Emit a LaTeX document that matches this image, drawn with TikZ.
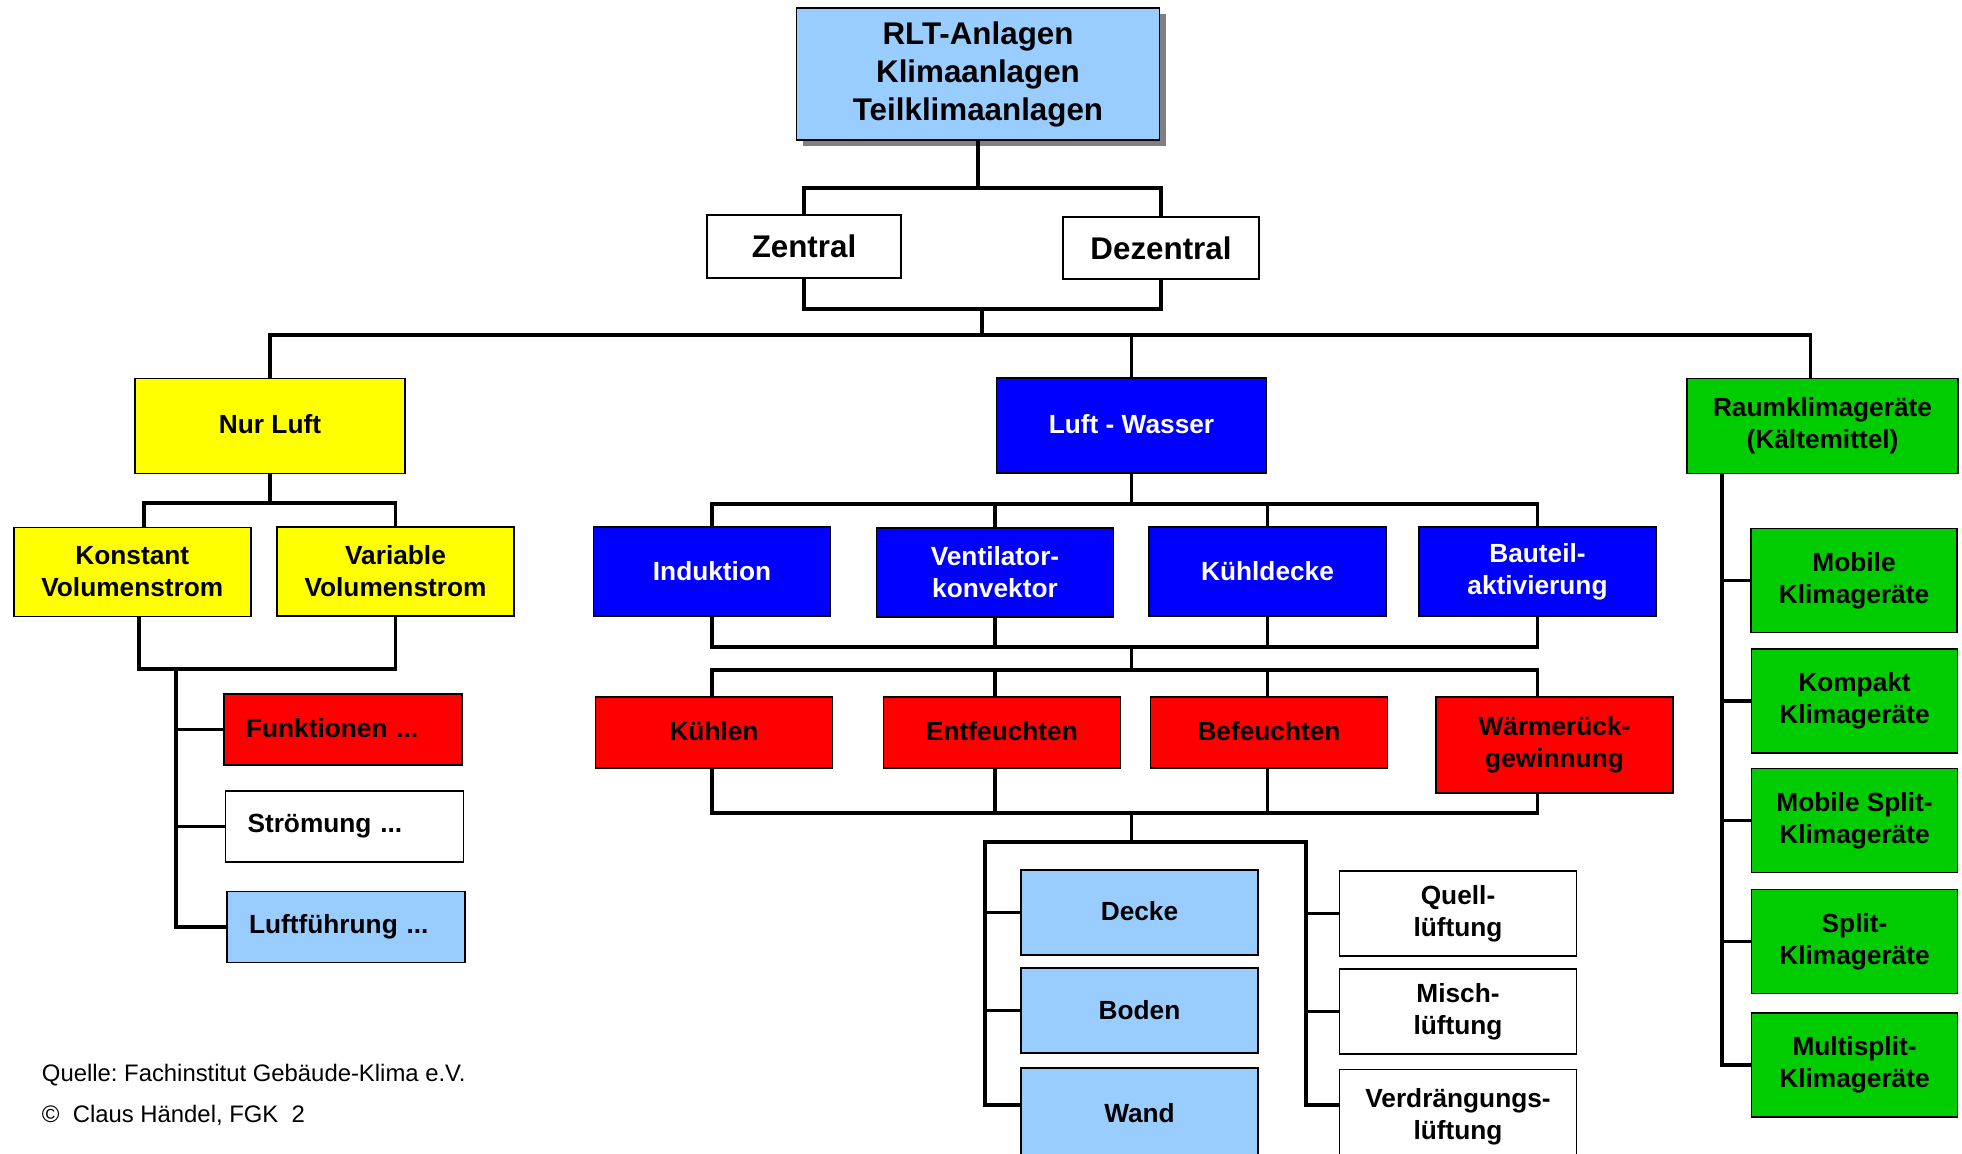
\documentclass[tikz,border=0pt]{standalone}
\usepackage{fontspec}
\setmainfont{Liberation Sans}
\frenchspacing
\usetikzlibrary{shadows}
\definecolor{lblue}{HTML}{99CCFF}
\definecolor{gyellow}{HTML}{FFFF00}
\definecolor{gblue}{HTML}{0000FF}
\definecolor{gred}{HTML}{FF0000}
\definecolor{ggreen}{HTML}{00CC00}
\definecolor{shadowgray}{HTML}{808080}
\newcommand{\upt}[1]{\raisebox{2.5pt}{#1}}
\begin{document}
\begin{tikzpicture}[x=0.75pt,y=-0.75pt,
  box/.style={draw=black, line width=1.3pt, inner sep=0pt, align=center,
    font=\fontsize{19.7}{24}\selectfont\bfseries},
  bigbox/.style={box, font=\fontsize{23.5}{28.5}\selectfont\bfseries},
  mainbox/.style={box, minimum width=202.5pt, minimum height=71.25pt},
  subbox/.style={box, minimum width=177.75pt, minimum height=66.75pt},
  redbox/.style={box, fill=gred, minimum width=177.75pt, minimum height=53.25pt},
  listbox/.style={box, minimum height=53.25pt, text width=145.5pt, inner xsep=16.5pt, align=left},
  lowbox/.style={box, minimum width=177.75pt, minimum height=63.75pt},
  greenbox/.style={box, fill=ggreen, minimum width=154.5pt, minimum height=78pt},
  conn/.style={line width=2.8pt, line join=miter},
  foot/.style={inner sep=0pt, anchor=base west, font=\fontsize{17.9}{22}\selectfont}]
\useasboundingbox (0,0) rectangle (1962,1153);

% top
\node[bigbox, fill=lblue, minimum width=272.25pt, minimum height=99pt,
  drop shadow={shadow xshift=4.5pt, shadow yshift=-4.5pt, fill=shadowgray, opacity=1}]
  (top) at (978,74) {RLT-Anlagen\\Klimaanlagen\\Teilklimaanlagen};
\node[bigbox, fill=white, minimum width=145.5pt, minimum height=47.25pt] (zentral) at (804,246.5) {Zentral};
\node[bigbox, fill=white, minimum width=147pt, minimum height=46.5pt] (dezentral) at (1161,248) {Dezentral};

% main row
\node[mainbox, fill=gyellow] (nurluft) at (270,426) {\upt{Nur Luft}};
\node[mainbox, fill=gblue, text=white] (luftwasser) at (1131.5,425.5) {\upt{Luft - Wasser}};
\node[mainbox, fill=ggreen, minimum width=203.25pt] (raum) at (1822.5,426) {Raumklimageräte\\(Kältemittel)};

% Nur Luft branch
\node[subbox, fill=gyellow] (konst) at (132.3,572) {Konstant\\Volumenstrom};
\node[subbox, fill=gyellow] (variable) at (395.5,571.5) {Variable\\Volumenstrom};
\node[listbox, fill=gred] (funk) at (343,729.5) {\upt{Funktionen ...}};
\node[listbox, fill=white] (stroem) at (344.5,826.5) {Strömung ...};
\node[listbox, fill=lblue] (luftf) at (346,927) {Luftführung ...};

% Luft-Wasser branch
\node[subbox, fill=gblue, text=white] (induktion) at (712,571.5) {Induktion};
\node[subbox, fill=gblue, text=white] (vent) at (995,572.5) {Ventilator-\\konvektor};
\node[subbox, fill=gblue, text=white] (kuehldecke) at (1267.5,571.5) {Kühldecke};
\node[subbox, fill=gblue, text=white] (bauteil) at (1537.5,571.5) {Bauteil-\\aktivierung};

\node[redbox] (kuehlen) at (714,732.5) {\upt{Kühlen}};
\node[redbox] (entf) at (1002,732.5) {\upt{Entfeuchten}};
\node[redbox] (bef) at (1269,732.5) {\upt{Befeuchten}};
\node[redbox, minimum height=72pt] (waerme) at (1554.5,745) {Wärmerück-\\gewinnung};

\node[lowbox, fill=lblue] (decke) at (1139.5,912.5) {\upt{Decke}};
\node[lowbox, fill=lblue] (boden) at (1139.5,1010.5) {Boden};
\node[lowbox, fill=lblue, minimum height=71.25pt] (wand) at (1139.5,1115.5) {\raisebox{4.5pt}{Wand}};
\node[lowbox, fill=white] (quell) at (1458,913.5) {Quell-\\lüftung};
\node[lowbox, fill=white] (misch) at (1458,1011.5) {Misch-\\lüftung};
\node[lowbox, fill=white, minimum height=71.25pt] (verdr) at (1458,1117) {Verdrängungs-\\lüftung};

% Raumklima branch
\node[greenbox] (mobile) at (1854,580.5) {Mobile\\Klimageräte};
\node[greenbox] (kompakt) at (1854.5,701) {Kompakt\\Klimageräte};
\node[greenbox] (msplit) at (1854.5,820.5) {Mobile Split-\\Klimageräte};
\node[greenbox] (split) at (1854.5,941.5) {Split-\\Klimageräte};
\node[greenbox] (multi) at (1854.5,1065) {Multisplit-\\Klimageräte};

% footer
\node[foot] (quelle) at (41.7,1081) {Quelle: Fachinstitut Gebäude-Klima e.V.};
\node[foot] (copy) at (41.7,1122) {\textcopyright\ \ Claus Händel, FGK\ \ 2};

% connectors top
\coordinate (ta) at (978,188);
\coordinate (tb) at (982,309);
\coordinate (mainbus) at (982,335);
\draw[conn] (top.south) -- (ta);
\draw[conn] (zentral.north) |- (ta) -| (dezentral.north);
\draw[conn] (zentral.south) |- (tb) -| (dezentral.south);
\draw[conn] (tb) -- (mainbus);
\draw[conn] (nurluft.north) |- (mainbus) -| ([xshift=-9pt]raum.north);
\draw[conn] (luftwasser.north) -- (luftwasser.north |- mainbus);

% Nur Luft connectors
\coordinate (nlbus) at (270,503);
\coordinate (ltrunk) at (176,669);
\draw[conn] (nurluft.south) -- (nlbus);
\draw[conn] ([xshift=9pt]konst.north) |- (nlbus) -| (variable.north);
\draw[conn] ([xshift=5pt]konst.south) |- (ltrunk) -| (variable.south);
\draw[conn] (ltrunk) |- (luftf.west);
\draw[conn] (funk.west) -- (funk.west -| ltrunk);
\draw[conn] (stroem.west) -- (stroem.west -| ltrunk);

% Luft-Wasser connectors
\coordinate (lwb) at (1131.5,504);
\coordinate (bb) at (1131.5,647);
\coordinate (rb) at (1131.5,670);
\coordinate (rbb) at (1131.5,813);
\coordinate (lb) at (1131.5,842);
\draw[conn] (luftwasser.south) -- (lwb);
\draw[conn] (induktion.north) |- (lwb) -| (bauteil.north);
\draw[conn] (vent.north) -- (vent.north |- lwb);
\draw[conn] (kuehldecke.north) -- (kuehldecke.north |- lwb);
\draw[conn] (induktion.south) |- (bb) -| (bauteil.south);
\draw[conn] (vent.south) -- (vent.south |- bb);
\draw[conn] (kuehldecke.south) -- (kuehldecke.south |- bb);
\draw[conn] (bb) -- (rb);
\draw[conn] (induktion.south |- kuehlen.north) |- (rb) -| (bauteil.south |- waerme.north);
\draw[conn] (vent.south |- entf.north) -- (vent.south |- rb);
\draw[conn] (kuehldecke.south |- bef.north) -- (kuehldecke.south |- rb);
\draw[conn] (induktion.south |- kuehlen.south) |- (rbb) -| (bauteil.south |- waerme.south);
\draw[conn] (vent.south |- entf.south) -- (vent.south |- rbb);
\draw[conn] (kuehldecke.south |- bef.south) -- (kuehldecke.south |- rbb);
\draw[conn] (rbb) -- (lb);
\coordinate (ltr) at (985,1105);
\coordinate (rtr) at (1306,1105);
\draw[conn] (ltr -| wand.west) -- (ltr) |- (lb) -| (rtr) -- (rtr -| verdr.west);
\draw[conn] (decke.west) -- (decke.west -| ltr);
\draw[conn] (boden.west) -- (boden.west -| ltr);
\draw[conn] (quell.west) -- (quell.west -| rtr);
\draw[conn] (misch.west) -- (misch.west -| rtr);

% Raumklima connectors
\coordinate (gtr) at (1722,473);
\draw[conn] (raum.south -| gtr) |- (multi.west);
\draw[conn] (mobile.west) -- (mobile.west -| gtr);
\draw[conn] (kompakt.west) -- (kompakt.west -| gtr);
\draw[conn] (msplit.west) -- (msplit.west -| gtr);
\draw[conn] (split.west) -- (split.west -| gtr);
\end{tikzpicture}
\end{document}
